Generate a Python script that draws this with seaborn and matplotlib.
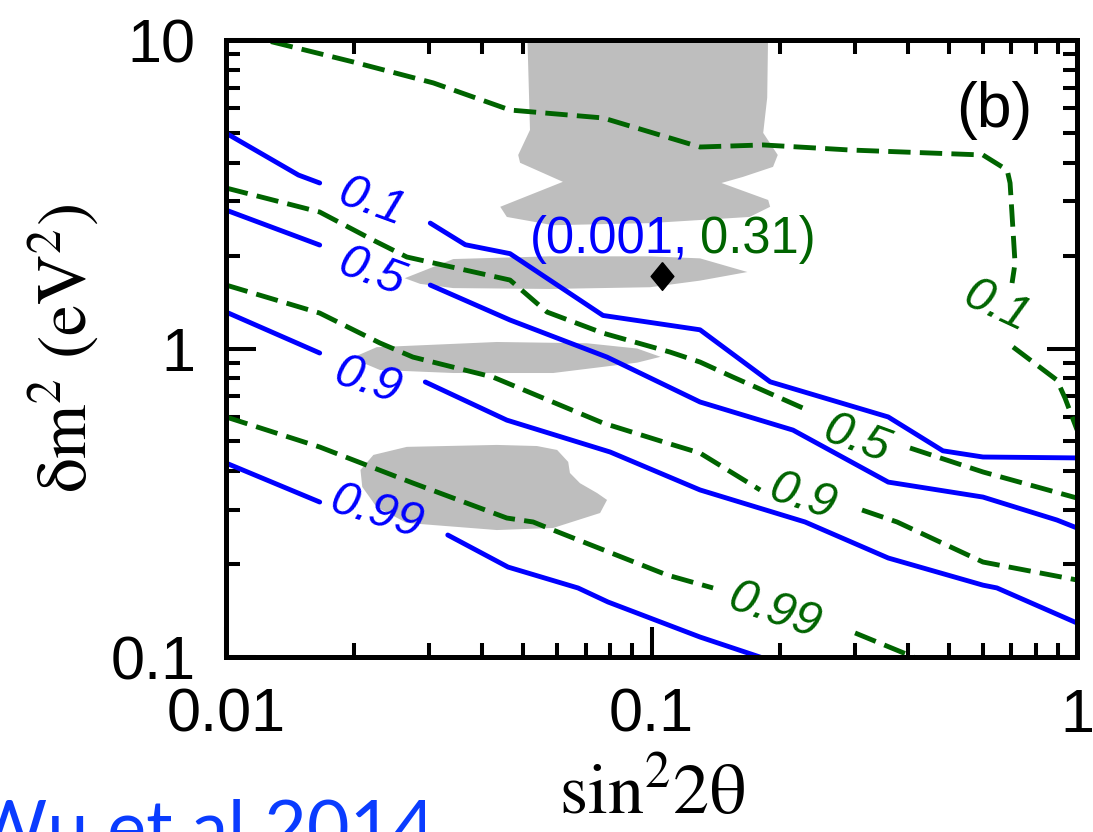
"""Panel (b): oscillation sensitivity contours in the sin^2(2theta) - dm^2 plane."""
import numpy as np
import pandas as pd
import matplotlib
matplotlib.use("Agg")
import matplotlib.pyplot as plt
from matplotlib.ticker import LogLocator, NullFormatter
import seaborn as sns

BLUE = "#0000ff"
GREEN = "#006400"
GREY = "#bebebe"
GAP = np.nan  # contour is broken here to leave room for its label

# blue solid contours
blue_01_x = [0.01, 0.0148, 0.0166, GAP, 0.0302, 0.0365, 0.0465, 0.0769, 0.130, 0.190, 0.360, 0.484, 0.601, 1.0]
blue_01_y = [4.99, 3.65, 3.44, GAP, 2.55, 2.17, 2.03, 1.28, 1.15, 0.78, 0.60, 0.466, 0.445, 0.442]
blue_05_x = [0.01, 0.0166, GAP, 0.0302, 0.0465, 0.0786, 0.130, 0.215, 0.360, 0.601, 0.897, 1.0]
blue_05_y = [2.81, 2.165, GAP, 1.606, 1.237, 0.938, 0.671, 0.544, 0.369, 0.330, 0.278, 0.262]
blue_09_x = [0.01, 0.0166, GAP, 0.0294, 0.0457, 0.0799, 0.130, 0.2295, 0.360, 0.601, 0.648, 1.0]
blue_09_y = [1.313, 0.967, GAP, 0.779, 0.586, 0.462, 0.348, 0.274, 0.2094, 0.171, 0.1675, 0.1289]
blue_099_x = [0.01, 0.0166, GAP, 0.0332, 0.046, 0.0672, 0.079, 0.130, 0.19]
blue_099_y = [0.4254, 0.318, GAP, 0.2486, 0.1957, 0.1674, 0.1508, 0.1161, 0.0975]

# green dashed contours
green_01_x = [0.0108, 0.0199, 0.0307, 0.0465, 0.0769, 0.130, 0.183, 0.293, 0.601, 0.685, 0.696, 0.715, 0.7035,
              GAP, 0.7075, 0.897, 0.937, 1.0]
green_01_y = [10.46, 8.49, 7.26, 5.93, 5.59, 4.50, 4.57, 4.40, 4.24, 3.79, 3.44, 1.89, 1.63,
              GAP, 1.011, 0.79, 0.691, 0.545]
green_05_x = [0.01, 0.0166, 0.02215, 0.0266, 0.0465, 0.0568, 0.0769, 0.1105, 0.130, 0.1554, 0.227, GAP, 0.405, 0.601, 1.0]
green_05_y = [3.314, 2.77, 2.247, 1.98, 1.667, 1.313, 1.122, 0.974, 0.904, 0.808, 0.641, GAP, 0.476, 0.398, 0.3276]
green_09_x = [0.01, 0.0166, 0.023, 0.0275, 0.0424, 0.0769, 0.1087, 0.130, 0.180, GAP, 0.3124, 0.3776, 0.601, 1.0]
green_09_y = [1.606, 1.303, 1.042, 0.938, 0.808, 0.5735, 0.494, 0.4583, 0.348, GAP, 0.2996, 0.274, 0.2032, 0.1777]
green_099_x = [0.01, 0.0166, 0.0275, 0.0457, 0.0527, 0.0587, 0.1087, 0.1395, GAP, 0.3008, 0.4396]
green_099_y = [0.600, 0.4795, 0.3664, 0.2822, 0.274, 0.258, 0.1845, 0.1674, GAP, 0.1197, 0.0965]

contour_levels = ["0.1", "0.5", "0.9", "0.99"]
blue_label_x = [0.0220, 0.0220, 0.0216, 0.0226]
blue_label_y = [2.96, 1.757, 0.779, 0.293]
blue_label_rot = [-20, -20, -18, -17]
green_label_x = [0.649, 0.304, 0.227, 0.195]
green_label_y = [1.363, 0.505, 0.330, 0.140]
green_label_rot = [-25, -20, -18, -19]

# grey allowed regions
blob_top_x = [0.0510, 0.0518, 0.0486, 0.0491, 0.0619, 0.0441, 0.0457, 0.0587, 0.0992, 0.170, 0.190, 0.188,
              0.146, 0.164, 0.193, 0.198, 0.183, 0.187, 0.188]
blob_top_y = [11, 5.11, 4.24, 4.0, 3.47, 2.88, 2.67, 2.51, 2.55, 2.67, 2.88, 3.03,
              3.44, 3.60, 3.88, 4.24, 5.0, 6.5, 11]
blob_upper_x = [0.0263, 0.0342, 0.0577, 0.0992, 0.130, 0.168, 0.130, 0.0992, 0.0577, 0.0342, 0.0286]
blob_upper_y = [1.69, 1.95, 1.99, 1.99, 1.96, 1.77, 1.66, 1.58, 1.56, 1.57, 1.62]
blob_mid_x = [0.0204, 0.0226, 0.0433, 0.0705, 0.0925, 0.105, 0.0925, 0.0587, 0.0342, 0.023, 0.021]
blob_mid_y = [0.95, 1.01, 1.05, 1.04, 1.0, 0.94, 0.90, 0.833, 0.833, 0.852, 0.898]
blob_low_x = [0.0433, 0.0538, 0.060, 0.0637, 0.0643, 0.0679, 0.0745, 0.0786, 0.0757, 0.0587, 0.0433,
              0.0266, 0.0226, 0.0209, 0.0207, 0.0222, 0.0266]
blob_low_y = [0.487, 0.483, 0.469, 0.429, 0.395, 0.366, 0.340, 0.323, 0.293, 0.262, 0.258,
              0.272, 0.306, 0.356, 0.404, 0.452, 0.48]

best_fit_x = [0.1058]
best_fit_y = [1.718]

x_ticks = [0.01, 0.1, 1]
x_ticklabels = ["0.01", "0.1", "1"]
y_ticks = [0.1, 1, 10]
y_ticklabels = ["0.1", "1", "10"]


def _segments(xs, ys):
    """Split a polyline at NaN gaps into a long frame with one unit per piece."""
    rows, seg = [], 0
    for x, y in zip(xs, ys):
        if np.isnan(x):
            seg += 1
            continue
        rows.append((x, y, seg))
    return pd.DataFrame(rows, columns=["x", "y", "seg"])


def _draw_contour(ax, xs, ys, color, **kws):
    df = _segments(xs, ys)
    sns.lineplot(data=df, x="x", y="y", units="seg", estimator=None, sort=False,
                 color=color, linewidth=3.5, ax=ax, **kws)


sns.set_theme(style="ticks", rc={
    "text.color": "black", "axes.labelcolor": "black", "axes.edgecolor": "black",
    "xtick.color": "black", "ytick.color": "black",
})
plt.rcParams["font.family"] = ["Liberation Sans", "DejaVu Sans"]
plt.rcParams["mathtext.fontset"] = "stix"

fig = plt.figure(figsize=(10.93, 8.32), dpi=100)
ax = fig.add_axes([0.2068, 0.2103, 0.7786, 0.7416])
ax.set_xscale("log")
ax.set_yscale("log")

for bx, by in [(blob_top_x, blob_top_y), (blob_upper_x, blob_upper_y),
               (blob_mid_x, blob_mid_y), (blob_low_x, blob_low_y)]:
    ax.fill(bx, by, color=GREY, linewidth=0, zorder=1)

for xs, ys in [(blue_01_x, blue_01_y), (blue_05_x, blue_05_y),
               (blue_09_x, blue_09_y), (blue_099_x, blue_099_y)]:
    _draw_contour(ax, xs, ys, BLUE)
for xs, ys in [(green_01_x, green_01_y), (green_05_x, green_05_y),
               (green_09_x, green_09_y), (green_099_x, green_099_y)]:
    _draw_contour(ax, xs, ys, GREEN, linestyle=(0, (4.6, 1.9)))

for lab, x, y, r in zip(contour_levels, blue_label_x, blue_label_y, blue_label_rot):
    ax.text(x, y, lab, color=BLUE, fontsize=35, style="italic", rotation=r,
            rotation_mode="anchor", ha="center", va="center")
for lab, x, y, r in zip(contour_levels, green_label_x, green_label_y, green_label_rot):
    ax.text(x, y, lab, color=GREEN, fontsize=35, style="italic", rotation=r,
            rotation_mode="anchor", ha="center", va="center")

ax.plot(best_fit_x, best_fit_y, linestyle="none", color="black", markersize=20,
        marker=[(0, 1), (0.82, 0), (0, -1), (-0.82, 0), (0, 1)])
ax.text(0.1218, 2.04, "(0.001,", color=BLUE, fontsize=36.5, ha="right", va="baseline")
ax.text(0.130, 2.04, "0.31)", color=GREEN, fontsize=36.5, ha="left", va="baseline")
ax.text(0.948, 0.885, "(b)", transform=ax.transAxes, fontsize=45, ha="right", va="center")

ax.set_xlim(0.01, 1)
ax.set_ylim(0.1, 10)
ax.set_xticks(x_ticks)
ax.set_xticklabels(x_ticklabels)
ax.set_yticks(y_ticks)
ax.set_yticklabels(y_ticklabels)
for axis in (ax.xaxis, ax.yaxis):
    axis.set_minor_locator(LogLocator(base=10, subs=np.arange(2, 10)))
    axis.set_minor_formatter(NullFormatter())
ax.tick_params(which="both", direction="in", top=True, right=True, width=2.9, color="black")
ax.tick_params(which="major", length=21.5, labelsize=44, pad=22)
ax.tick_params(which="minor", length=10)
for spine in ax.spines.values():
    spine.set_linewidth(3.6)
    spine.set_color("black")

ax.set_xlabel("sin$^2$2θ", fontsize=52, family="STIXGeneral", labelpad=12)
ax.set_ylabel("δm$^2$ (eV$^2$)", fontsize=50, family="STIXGeneral", labelpad=6)

fig.text(0.398, -0.0252, "Wu et al 2014", color="#0a3cff", fontsize=53,
         family=["Lato", "DejaVu Sans"], ha="right", va="baseline")

fig.savefig("out.png", dpi=100)
